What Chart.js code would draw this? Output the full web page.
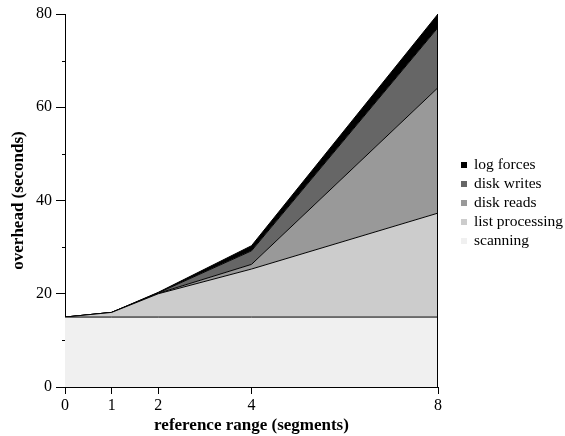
<!DOCTYPE html>
<html>
<head>
<meta charset="utf-8">
<script src="https://cdn.jsdelivr.net/npm/chart.js@4/dist/chart.umd.min.js"></script>
<style>
  html, body { margin: 0; padding: 0; background: #fff; }
  #wrap { position: relative; width: 565px; height: 436px; }
  #legend {
    position: absolute; left: 461px; top: 154px; margin: 0; padding: 0; list-style: none;
    font: 15.5px 'Liberation Serif', 'Times New Roman', serif; color: #000;
  }
  #legend li { height: 19px; line-height: 19px; white-space: nowrap; }
  #legend span { display: inline-block; width: 6px; height: 6px; margin-right: 7px; vertical-align: 1px; }
</style>
</head>
<body>
<div id="wrap"><canvas id="c"></canvas><ul id="legend"></ul></div>
<script>
// reference range (segments)
const xValues = [0, 1, 2, 4, 8]
const xTicks  = [0, 1, 2, 4, 8]

// overhead (seconds), per component, stacked
const scanning       = [15, 15, 15, 15, 15]
const listProcessing = [0, 1, 5, 10.3, 22.3]
const diskReads      = [0, 0, 0.1, 1.0, 26.9]
const diskWrites     = [0, 0, 0.1, 2.9, 12.9]
const logForces      = [0, 0, 0.1, 1.1, 2.9]

const FONT = "'Liberation Serif', 'Times New Roman', serif"

const series = [
  { label: "scanning",        values: scanning,       color: "#f0f0f0" },
  { label: "list processing", values: listProcessing, color: "#cccccc" },
  { label: "disk reads",      values: diskReads,      color: "#999999" },
  { label: "disk writes",     values: diskWrites,     color: "#666666" },
  { label: "log forces",      values: logForces,      color: "#000000" },
]

const datasets = series.map((s, i) => ({
  label: s.label,
  data: s.values.map((y, j) => ({ x: xValues[j], y })),
  backgroundColor: s.color,
  borderColor: "#000",
  borderWidth: 1,
  fill: i === 0 ? "origin" : "-1",
  pointRadius: 0,
  tension: 0,
}))

// short minor ticks on y, plus the closing edge of the stack at x = 8
const extras = {
  id: "extras",
  afterDraw(chart) {
    const { ctx, scales: { x, y } } = chart
    ctx.save()
    ctx.strokeStyle = "#000"
    ctx.lineWidth = 1
    for (const t of y.ticks) {
      if (t.value % 20 === 0) continue
      const py = Math.round(y.getPixelForValue(t.value)) + 0.5
      ctx.beginPath()
      ctx.moveTo(x.left - 3, py)
      ctx.lineTo(x.left, py)
      ctx.stroke()
    }
    const px = Math.round(x.getPixelForValue(8)) - 0.5
    ctx.beginPath()
    ctx.moveTo(px, y.getPixelForValue(80))
    ctx.lineTo(px, y.getPixelForValue(0))
    ctx.stroke()
    ctx.restore()
  },
}

new Chart(document.getElementById("c"), {
  type: "line",
  data: { datasets },
  plugins: [extras],
  options: {
    responsive: true,
    maintainAspectRatio: false,
    animation: false,
    layout: { padding: { top: 14, right: 127, left: 8, bottom: 0 } },
    scales: {
      x: {
        type: "linear",
        min: 0,
        max: 8,
        afterBuildTicks: (scale) => { scale.ticks = xTicks.map(v => ({ value: v })) },
        afterFit: (scale) => { scale.height = 49 },
        ticks: { color: "#000", font: { family: FONT, size: 16 }, padding: 2, maxRotation: 0 },
        grid: { display: true, drawOnChartArea: false, tickLength: 7, tickColor: "#000" },
        border: { color: "#000", width: 1 },
        title: { display: true, text: "reference range (segments)", color: "#000",
                 font: { family: FONT, size: 17, weight: "bold" }, padding: { top: 0, bottom: 0 } },
      },
      y: {
        stacked: true,
        min: 0,
        max: 80,
        afterFit: (scale) => { scale.width = 57 },
        ticks: {
          stepSize: 10,
          color: "#000",
          font: { family: FONT, size: 16 },
          padding: 4,
          callback: (v) => (v % 20 === 0 ? v : ""),
        },
        grid: {
          display: true,
          drawOnChartArea: false,
          tickLength: 9,
          tickColor: (c) => (c.tick && c.tick.value % 20 === 0 ? "#000" : "rgba(0,0,0,0)"),
        },
        border: { color: "#000", width: 1 },
        title: { display: true, text: "overhead (seconds)", color: "#000",
                 font: { family: FONT, size: 17, weight: "bold" }, padding: 0 },
      },
    },
    plugins: {
      legend: { display: false },
      tooltip: { enabled: false },
    },
  },
})

// legend, top entry = top of the stack
const legendEl = document.getElementById("legend")
for (const s of [...series].reverse()) {
  const li = document.createElement("li")
  const box = document.createElement("span")
  box.style.background = s.color
  li.appendChild(box)
  li.appendChild(document.createTextNode(s.label))
  legendEl.appendChild(li)
}
</script>
</body>
</html>
